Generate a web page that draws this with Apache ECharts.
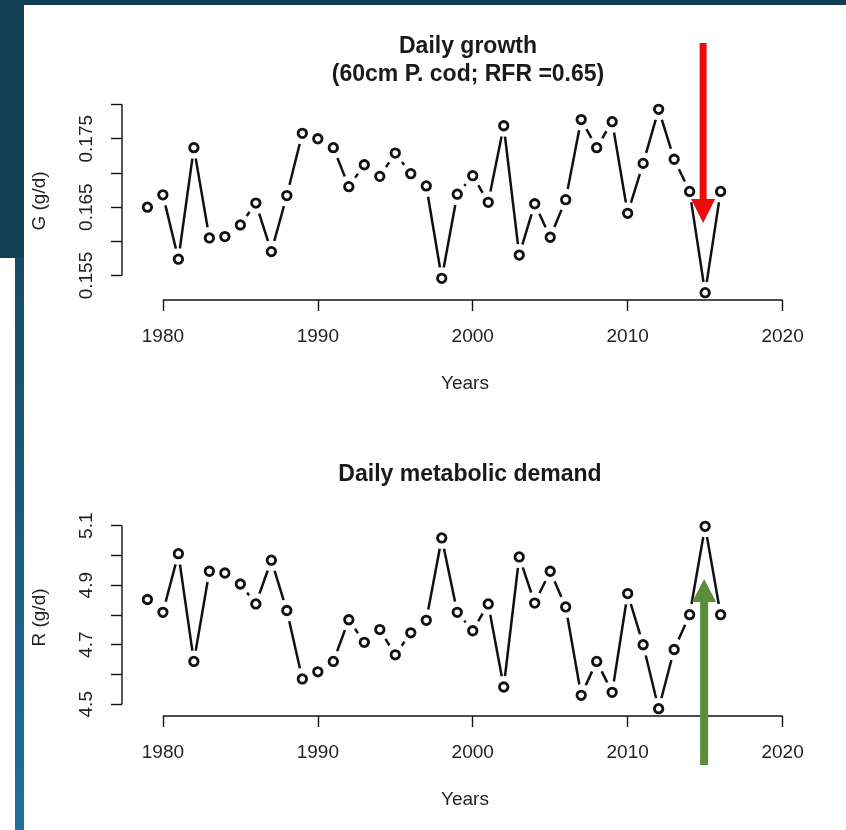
<!DOCTYPE html>
<html>
<head>
<meta charset="utf-8">
<script src="https://cdn.jsdelivr.net/npm/echarts@6/dist/echarts.min.js"></script>
<style>
  html, body { margin: 0; padding: 0; background: #ffffff; }
  #chart { width: 846px; height: 830px; }
</style>
</head>
<body>
<div id="chart"></div>
<script>
// Annual series, 1979–2016
const years = [1979, 1980, 1981, 1982, 1983, 1984, 1985, 1986, 1987, 1988,
               1989, 1990, 1991, 1992, 1993, 1994, 1995, 1996, 1997, 1998,
               1999, 2000, 2001, 2002, 2003, 2004, 2005, 2006, 2007, 2008,
               2009, 2010, 2011, 2012, 2013, 2014, 2015, 2016];

// Daily growth G (g/d)
const growth = [0.1650, 0.1668, 0.1574, 0.1737, 0.1605, 0.1607, 0.1624, 0.1656, 0.1585, 0.1667,
                0.1758, 0.1750, 0.1737, 0.1680, 0.1712, 0.1695, 0.1729, 0.1699, 0.1681, 0.1546,
                0.1669, 0.1696, 0.1657, 0.1769, 0.1580, 0.1655, 0.1606, 0.1661, 0.1778, 0.1737,
                0.1775, 0.1641, 0.1714, 0.1793, 0.1720, 0.1673, 0.1525, 0.1673];

// Daily metabolic demand R (g/d)
const demand = [4.852, 4.809, 5.006, 4.644, 4.947, 4.941, 4.904, 4.837, 4.984, 4.815,
                4.585, 4.609, 4.644, 4.784, 4.708, 4.751, 4.666, 4.740, 4.782, 5.059,
                4.809, 4.747, 4.837, 4.558, 4.995, 4.840, 4.947, 4.827, 4.530, 4.644,
                4.540, 4.872, 4.700, 4.485, 4.684, 4.801, 5.098, 4.801];

const xTicks = [1980, 1990, 2000, 2010, 2020];
const xSpan = [1979, 2020];
const growthTicks = [0.155, 0.160, 0.165, 0.170, 0.175, 0.180];
const growthLabels = [0.155, 0.165, 0.175];
const demandTicks = [4.5, 4.6, 4.7, 4.8, 4.9, 5.0, 5.1];
const demandLabels = [4.5, 4.7, 4.9, 5.1];
const highlightYear = 2015;

const FONT = '"Liberation Sans", Arial, Helvetica, sans-serif';
const INK = '#111111';

// base-graphics style 4% padding around a range
function padded(lo, hi) {
  const d = (hi - lo) * 0.04;
  return [lo - d, hi + d];
}

const xLim = padded(xSpan[0], xSpan[1]);
const gLim = padded(Math.min(...growth), Math.max(...growth));
const rLim = padded(Math.min(...demand), Math.max(...demand));

const pairs = (vals) => years.map((y, i) => [y, vals[i]]);

function xAxisFor(gridIndex) {
  return {
    type: 'value', gridIndex,
    min: xLim[0], max: xLim[1],
    axisLine: { show: false },
    splitLine: { show: false },
    axisTick: { show: true, customValues: xTicks, length: 11, lineStyle: { color: INK, width: 1.4 } },
    axisLabel: {
      customValues: xTicks, margin: 27, color: '#222', fontSize: 19, lineHeight: 20,
      fontFamily: FONT, formatter: (v) => String(Math.round(v))
    },
    name: 'Years', nameLocation: 'middle', nameGap: 74,
    nameTextStyle: { color: '#222', fontSize: 19, fontFamily: FONT, lineHeight: 20 }
  };
}

function yAxisFor(gridIndex, lim, ticks, labels, digits, title) {
  return {
    type: 'value', gridIndex,
    min: lim[0], max: lim[1],
    axisLine: { show: false },
    splitLine: { show: false },
    axisTick: { show: true, customValues: ticks, length: 11, lineStyle: { color: INK, width: 1.4 } },
    axisLabel: {
      customValues: labels, rotate: 90, margin: 25, color: '#222', fontSize: 19, lineHeight: 20,
      fontFamily: FONT, formatter: (v) => Number(v).toFixed(digits)
    },
    name: title, nameLocation: 'middle', nameGap: 72, nameRotate: 90,
    nameTextStyle: { color: '#222', fontSize: 19, fontFamily: FONT, lineHeight: 20 }
  };
}

function seriesFor(idx, vals) {
  const data = pairs(vals);
  return [
    {
      type: 'line', xAxisIndex: idx, yAxisIndex: idx, data,
      showSymbol: false, silent: true, z: 2,
      lineStyle: { color: INK, width: 2.5 }
    },
    {
      // clears the line around each point
      type: 'scatter', xAxisIndex: idx, yAxisIndex: idx, data,
      symbol: 'circle', symbolSize: 22, silent: true, z: 3,
      itemStyle: { color: '#ffffff', opacity: 1 }
    },
    {
      type: 'scatter', xAxisIndex: idx, yAxisIndex: idx, data,
      symbol: 'circle', symbolSize: 8.5, silent: true, z: 4,
      itemStyle: { color: '#ffffff', borderColor: INK, borderWidth: 2.8, opacity: 1 }
    }
  ];
}

const chart = echarts.init(document.getElementById('chart'), null, { renderer: 'canvas' });

chart.setOption({
  animation: false,
  backgroundColor: '#ffffff',
  title: [
    {
      text: 'Daily growth\n(60cm P. cod; RFR =0.65)',
      left: 463, top: 28, textAlign: 'center',
      textStyle: { fontSize: 23, fontWeight: 'bold', fontFamily: FONT, color: '#1a1a1a', lineHeight: 28 }
    },
    {
      text: 'Daily metabolic demand',
      left: 465, top: 456, textAlign: 'center',
      textStyle: { fontSize: 23, fontWeight: 'bold', fontFamily: FONT, color: '#1a1a1a', lineHeight: 28 }
    }
  ],
  grid: [
    { left: 122, right: 38, top: 102, height: 198 },
    { left: 122, right: 38, top: 519, height: 197 }
  ],
  xAxis: [xAxisFor(0), xAxisFor(1)],
  yAxis: [
    yAxisFor(0, gLim, growthTicks, growthLabels, 3, 'G (g/d)'),
    yAxisFor(1, rLim, demandTicks, demandLabels, 1, 'R (g/d)')
  ],
  series: [...seriesFor(0, growth), ...seriesFor(1, demand)]
});

// Axis lines span only from the first to the last tick, plus frame and arrows
function px(gridIndex, pt) {
  return chart.convertToPixel({ gridIndex }, pt);
}

function axisLines(gridIndex, lim, ticks) {
  const x0 = px(gridIndex, [xTicks[0], lim[0]]);
  const x1 = px(gridIndex, [xTicks[xTicks.length - 1], lim[0]]);
  const y0 = px(gridIndex, [xLim[0], ticks[0]]);
  const y1 = px(gridIndex, [xLim[0], ticks[ticks.length - 1]]);
  const style = { stroke: INK, lineWidth: 1.4 };
  return [
    { type: 'line', shape: { x1: x0[0], y1: x0[1], x2: x1[0], y2: x1[1] }, style, z: 10 },
    { type: 'line', shape: { x1: y0[0], y1: y0[1], x2: y1[0], y2: y1[1] }, style, z: 10 }
  ];
}

const hx = px(0, [highlightYear, gLim[0]])[0] - 2;
const gx = px(1, [highlightYear, rLim[0]])[0] - 1;

chart.setOption({
  graphic: [
    // page frame
    { type: 'rect', shape: { x: 0, y: 0, width: 846, height: 5 }, style: { fill: '#123c53' }, z: 50, silent: true },
    { type: 'rect', shape: { x: 0, y: 0, width: 24, height: 258 }, style: { fill: '#133f57' }, z: 50, silent: true },
    {
      type: 'rect', shape: { x: 15, y: 258, width: 9, height: 572 }, z: 50, silent: true,
      style: {
        fill: new echarts.graphic.LinearGradient(0, 0, 0, 1, [
          { offset: 0, color: '#164a65' }, { offset: 1, color: '#1f7199' }
        ])
      }
    },
    ...axisLines(0, gLim, growthTicks),
    ...axisLines(1, rLim, demandTicks),
    // red arrow onto the growth minimum
    { type: 'rect', shape: { x: hx - 3.5, y: 43, width: 7, height: 158 }, style: { fill: '#ee0b0b' }, z: 60, silent: true },
    { type: 'polygon', shape: { points: [[hx - 12, 199], [hx + 12, 199], [hx, 223]] }, style: { fill: '#ee0b0b' }, z: 60, silent: true },
    // green arrow onto the demand maximum
    { type: 'rect', shape: { x: gx - 4, y: 600, width: 8, height: 165 }, style: { fill: '#5b8e3c' }, z: 60, silent: true },
    { type: 'polygon', shape: { points: [[gx - 12, 602], [gx + 12, 602], [gx, 579]] }, style: { fill: '#5b8e3c' }, z: 60, silent: true }
  ]
});
</script>
</body>
</html>
